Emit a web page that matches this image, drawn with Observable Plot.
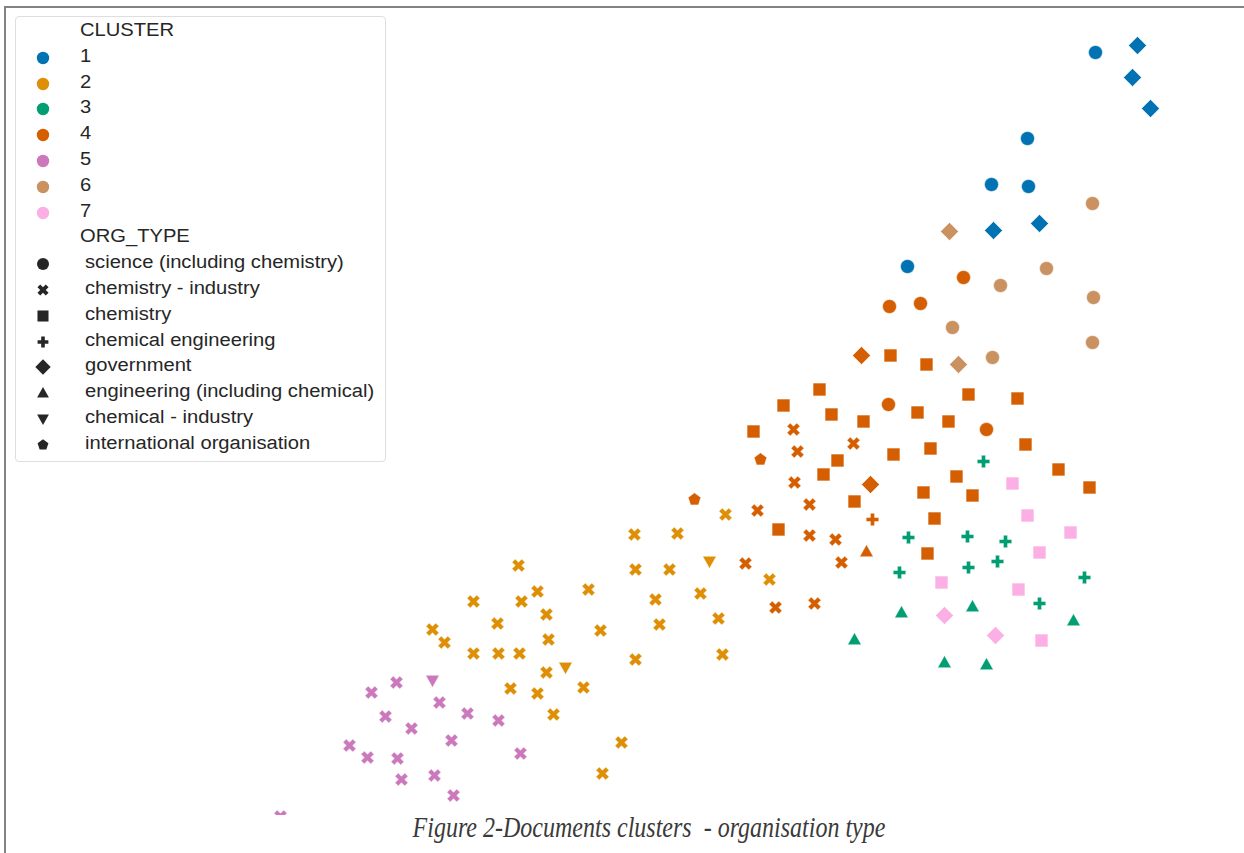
<!DOCTYPE html>
<html><head><meta charset="utf-8">
<script src="https://cdn.jsdelivr.net/npm/d3@7"></script>
<script src="https://cdn.jsdelivr.net/npm/@observablehq/plot@0.6"></script>
<style>
body{margin:0;background:#fff;}
#page{position:relative;width:1244px;height:853px;overflow:hidden;background:#fff;}
#frame{position:absolute;left:4px;top:6px;width:1400px;height:1000px;border-left:2px solid #838383;border-top:2px solid #838383;z-index:3;pointer-events:none;}
#chart{position:absolute;left:0;top:0;z-index:1;}
#legend{position:absolute;left:15px;top:16px;width:369px;height:444px;border:1px solid #dedede;border-radius:4px;background:rgba(255,255,255,0.85);z-index:2;font-family:"Liberation Sans",Arial,sans-serif;color:#262626;}
.lt{position:absolute;font-size:18px;line-height:1;transform-origin:left center;transform:translateY(-50%) scaleX(1.12);white-space:nowrap;}
.ls{position:absolute;overflow:visible;}
#caption{position:absolute;left:649px;top:812px;transform:translateX(-50%) scaleY(1.2);transform-origin:center top;font-family:"Liberation Serif","Times New Roman",serif;font-style:italic;font-size:24px;color:#3a3a3a;white-space:pre;}
</style></head>
<body>
<div id="page">
  <div id="chart"></div>
  <div id="legend"></div>
  <div id="frame"></div>
  <div id="caption">Figure 2-Documents clusters  - organisation type</div>
</div>
<script>
// ---- categories ----
const clusterLabels = ["1","2","3","4","5","6","7"];
const clusterColors = ["#0173b2","#de8f05","#029e73","#d55e00","#cc78bc","#ca9161","#fbafe4"];
const orgKeys = ["sci","ind","chem","ce","gov","eng","ci","io"];
const orgLabels = ["science (including chemistry)","chemistry - industry","chemistry","chemical engineering","government","engineering (including chemical)","chemical - industry","international organisation"];

// ---- points per cluster: [x, y, org type] ----
const cluster1 = [[45.5,41.8,"sci"],[49.7,42.5,"gov"],[49.2,39.3,"gov"],[51.0,36.2,"gov"],[38.7,33.2,"sci"],[35.1,28.6,"sci"],[38.8,28.4,"sci"],[35.3,24.0,"gov"],[39.9,24.7,"gov"],[26.7,20.4,"sci"]];
const cluster2 = [[8.5,-4.4,"ind"],[6.9,-9.1,"ci"],[12.9,-10.9,"ind"],[6.0,-12.3,"ind"],[7.8,-14.8,"ind"],[8.2,-18.4,"ind"],[-0.6,-6.4,"ind"],[3.7,-6.3,"ind"],[-12.2,-9.5,"ind"],[-0.5,-9.9,"ind"],[2.9,-9.9,"ind"],[-10.3,-12.1,"ind"],[-5.2,-11.9,"ind"],[-16.7,-13.1,"ind"],[-11.9,-13.1,"ind"],[1.5,-12.9,"ind"],[-9.4,-14.4,"ind"],[-14.3,-15.3,"ind"],[1.9,-15.4,"ind"],[-20.8,-15.9,"ind"],[-4.0,-16.0,"ind"],[-19.6,-17.2,"ind"],[-9.2,-16.9,"ind"],[-16.7,-18.3,"ind"],[-14.2,-18.3,"ind"],[-12.1,-18.3,"ind"],[-0.5,-18.9,"ind"],[-7.5,-19.7,"ci"],[-9.4,-20.2,"ind"],[-13.0,-21.8,"ind"],[-10.3,-22.3,"ind"],[-5.7,-21.7,"ind"],[-8.7,-24.4,"ind"],[-1.9,-27.2,"ind"],[-3.8,-30.3,"ind"]];
const cluster3 = [[34.3,0.9,"ce"],[26.8,-6.7,"ce"],[32.7,-6.6,"ce"],[36.5,-7.1,"ce"],[32.8,-9.7,"ce"],[35.7,-9.1,"ce"],[25.9,-10.2,"ce"],[44.4,-10.7,"ce"],[39.9,-13.3,"ce"],[26.1,-14.2,"eng"],[33.2,-13.6,"eng"],[43.3,-15.0,"eng"],[21.4,-16.9,"eng"],[30.4,-19.2,"eng"],[34.6,-19.4,"eng"]];
const cluster4 = [[32.3,19.3,"sci"],[24.9,16.4,"sci"],[28.0,16.7,"sci"],[22.1,11.5,"gov"],[25.0,11.5,"chem"],[28.6,10.6,"chem"],[17.9,8.1,"chem"],[14.3,6.5,"chem"],[24.8,6.6,"sci"],[32.8,7.6,"chem"],[37.7,7.2,"chem"],[19.1,5.6,"chem"],[27.7,5.8,"chem"],[22.3,4.9,"chem"],[30.8,4.9,"chem"],[11.3,3.9,"chem"],[15.3,4.1,"ind"],[34.6,4.1,"sci"],[21.3,2.7,"ind"],[15.7,1.9,"ind"],[12.0,1.1,"io"],[19.7,1.0,"chem"],[25.3,1.6,"chem"],[29.0,2.2,"chem"],[38.5,2.6,"chem"],[18.3,-0.4,"chem"],[15.4,-1.2,"ind"],[23.0,-1.4,"gov"],[31.6,-0.6,"chem"],[41.8,0.1,"chem"],[44.9,-1.7,"chem"],[5.4,-2.9,"io"],[28.3,-2.2,"chem"],[33.2,-2.5,"chem"],[16.9,-3.4,"ind"],[21.4,-3.1,"chem"],[11.7,-4.0,"ind"],[23.2,-4.9,"ce"],[29.4,-4.8,"chem"],[13.8,-5.9,"chem"],[16.9,-6.5,"ind"],[19.5,-6.9,"ind"],[22.6,-8.1,"eng"],[28.7,-8.3,"chem"],[10.5,-9.3,"ind"],[20.1,-9.2,"ind"],[13.5,-13.7,"ind"],[17.4,-13.3,"ind"]];
const cluster5 = [[-24.4,-21.2,"ind"],[-20.8,-21.0,"ci"],[-26.9,-22.2,"ind"],[-20.1,-23.2,"ind"],[-25.5,-24.6,"ind"],[-17.3,-24.3,"ind"],[-14.2,-25.0,"ind"],[-22.9,-25.8,"ind"],[-18.9,-27.0,"ind"],[-29.1,-27.5,"ind"],[-27.3,-28.7,"ind"],[-24.3,-28.8,"ind"],[-12.0,-28.3,"ind"],[-23.9,-30.9,"ind"],[-20.6,-30.5,"ind"],[-18.7,-32.5,"ind"],[-36.0,-34.6,"ind"]];
const cluster6 = [[45.2,26.7,"sci"],[30.9,23.9,"gov"],[40.6,20.2,"sci"],[36.0,18.5,"sci"],[45.3,17.3,"sci"],[31.2,14.3,"sci"],[45.2,12.8,"sci"],[31.8,10.6,"gov"],[35.2,11.3,"sci"]];
const cluster7 = [[37.2,-1.3,"chem"],[38.7,-4.5,"chem"],[43.0,-6.2,"chem"],[39.9,-8.2,"chem"],[30.1,-11.2,"chem"],[37.8,-11.9,"chem"],[30.4,-14.5,"gov"],[35.5,-16.5,"gov"],[40.1,-17.0,"chem"]];

const clusterPoints = [cluster1, cluster2, cluster3, cluster4, cluster5, cluster6, cluster7];
const points = clusterPoints.flatMap((arr, ci) => arr.map(([x, y, org]) => ({x, y, org, cluster: clusterLabels[ci]})));

// ---- marker shapes (seaborn style filled markers) ----
const rOf = size => Math.sqrt(size / Math.PI);
function poly(ctx, pts){ ctx.moveTo(pts[0][0], pts[0][1]); for (let i = 1; i < pts.length; i++) ctx.lineTo(pts[i][0], pts[i][1]); ctx.closePath(); }
function crossPts(a, w){ return [[-w,-a],[w,-a],[w,-w],[a,-w],[a,w],[w,w],[w,a],[-w,a],[-w,w],[-a,w],[-a,-w],[-w,-w]]; }
const symCircle = {draw(ctx, size){ const r = rOf(size); ctx.moveTo(r, 0); ctx.arc(0, 0, r, 0, 2 * Math.PI); }};
const symX = {draw(ctx, size){ const r = rOf(size), c = Math.SQRT1_2; poly(ctx, crossPts(r * 0.98, r * 0.33).map(([x, y]) => [(x - y) * c, (x + y) * c])); }};
const symSquare = {draw(ctx, size){ const h = rOf(size) * 0.92; poly(ctx, [[-h,-h],[h,-h],[h,h],[-h,h]]); }};
const symPlus = {draw(ctx, size){ const r = rOf(size); poly(ctx, crossPts(r * 0.9, r * 0.3)); }};
const symDiamond = {draw(ctx, size){ const d = rOf(size) * 1.28; poly(ctx, [[0,-d],[d,0],[0,d],[-d,0]]); }};
const symTriUp = {draw(ctx, size){ const r = rOf(size); poly(ctx, [[0,-r],[r*0.98,r*0.75],[-r*0.98,r*0.75]]); }};
const symTriDown = {draw(ctx, size){ const r = rOf(size); poly(ctx, [[0,r],[r*0.98,-r*0.75],[-r*0.98,-r*0.75]]); }};
const symPent = {draw(ctx, size){ const r = rOf(size) * 0.95; const pts = []; for (let i = 0; i < 5; i++){ const a = -Math.PI/2 + i * 2 * Math.PI / 5; pts.push([r*Math.cos(a), r*Math.sin(a)]); } poly(ctx, pts); }};
const orgSymbols = [symCircle, symX, symSquare, symPlus, symDiamond, symTriUp, symTriDown, symPent];

// ---- chart ----
const chart = Plot.plot({
  width: 1244, height: 815, margin: 0,
  x: {domain: [-64, 60.4], axis: null},
  y: {domain: [-34.5, 47], axis: null},
  color: {domain: clusterLabels, range: clusterColors},
  style: {background: "transparent", overflow: "hidden"},
  marks: orgKeys.map((k, i) => Plot.dot(points.filter(p => p.org === k), {
    x: "x", y: "y", fill: "cluster", symbol: orgSymbols[i], r: 7,
    stroke: "white", strokeWidth: 0.5, clip: true
  }))
});
document.getElementById("chart").appendChild(chart);

// ---- legend ----
const legend = document.getElementById("legend");
const L0 = 15, T0 = 16;
function rowY(i){ return 30 + i * 25.8; }
function addText(txt, x, y){
  const s = document.createElement("span"); s.className = "lt"; s.textContent = txt;
  s.style.left = (x - L0 - 1) + "px"; s.style.top = (y - T0 - 1) + "px"; legend.appendChild(s);
}
function addSym(sym, color, x, y, r){
  const ns = "http://www.w3.org/2000/svg";
  const svg = document.createElementNS(ns, "svg");
  svg.setAttribute("class", "ls"); svg.setAttribute("width", 20); svg.setAttribute("height", 20);
  svg.style.left = (x - L0 - 11) + "px"; svg.style.top = (y - T0 - 11) + "px";
  const p = document.createElementNS(ns, "path");
  p.setAttribute("transform", "translate(10,10)");
  p.setAttribute("d", d3.symbol().type(sym).size(Math.PI * r * r)());
  p.setAttribute("fill", color);
  svg.appendChild(p); legend.appendChild(svg);
}
addText("CLUSTER", 80, rowY(0));
clusterLabels.forEach((c, i) => { addText(c, 80, rowY(i + 1)); addSym(symCircle, clusterColors[i], 43, rowY(i + 1) + 2, 6.2); });
addText("ORG_TYPE", 80, rowY(8));
orgLabels.forEach((o, i) => { addText(o, 85, rowY(9 + i)); addSym(orgSymbols[i], "#262626", 43, rowY(9 + i) + 2, 6.0); });
</script>
</body></html>
